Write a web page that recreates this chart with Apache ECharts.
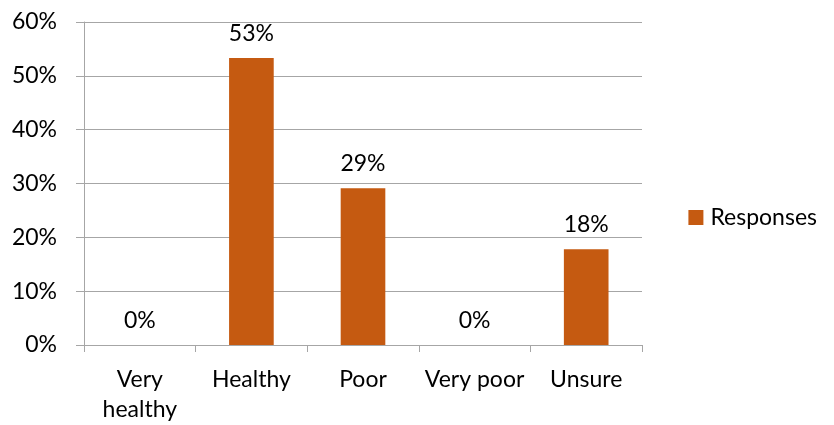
<!DOCTYPE html>
<html>
<head>
<meta charset="utf-8">
<script src="https://cdn.jsdelivr.net/npm/echarts@6/dist/echarts.min.js"></script>
<style>
  html, body { margin: 0; padding: 0; background: #fff; }
  #chart { width: 834px; height: 425px; }
</style>
</head>
<body>
<div id="chart"></div>
<script>
const categories = ['Very\nhealthy', 'Healthy', 'Poor', 'Very poor', 'Unsure']
const responses = [0, 53.3, 29.1, 0, 17.8]
const yTicks = [0, 10, 20, 30, 40, 50, 60]

const font = 'Lato'
const gray = '#a6a6a6'

const myChart = echarts.init(document.getElementById('chart'))

myChart.setOption({
    animation: false,
    textStyle: {fontFamily: font},
    grid: {left: 84, right: 192, top: 22, bottom: 79, containLabel: false},
    legend: {
        right: 12, top: 201,
        orient: 'vertical',
        itemWidth: 15, itemHeight: 15,
        itemGap: 8,
        icon: 'rect',
        textStyle: {fontSize: 23, color: '#000', fontFamily: font, padding: [0, 0, 0, 2]},
        data: ['Responses']
    },
    xAxis: {
        type: 'category',
        data: categories,
        axisLine: {lineStyle: {color: gray}},
        axisTick: {show: true, length: 7, lineStyle: {color: gray}},
        axisLabel: {color: '#000', fontSize: 23, margin: 20, lineHeight: 30, interval: 0}
    },
    yAxis: {
        type: 'value',
        min: yTicks[0], max: yTicks[yTicks.length - 1], interval: 10,
        axisLine: {show: true, lineStyle: {color: gray}},
        axisTick: {show: true, length: 8, inside: false, lineStyle: {color: gray}},
        splitLine: {lineStyle: {color: gray}},
        axisLabel: {color: '#000', fontSize: 23, margin: 27, formatter: v => v + '%'}
    },
    series: [{
        name: 'Responses',
        type: 'bar',
        data: responses,
        barWidth: '40%',
        itemStyle: {color: '#c55a11'},
        label: {
            show: true, position: 'top', distance: 13,
            color: '#000', fontSize: 23,
            formatter: p => Math.round(p.value) + '%'
        }
    }]
})
</script>
</body>
</html>
